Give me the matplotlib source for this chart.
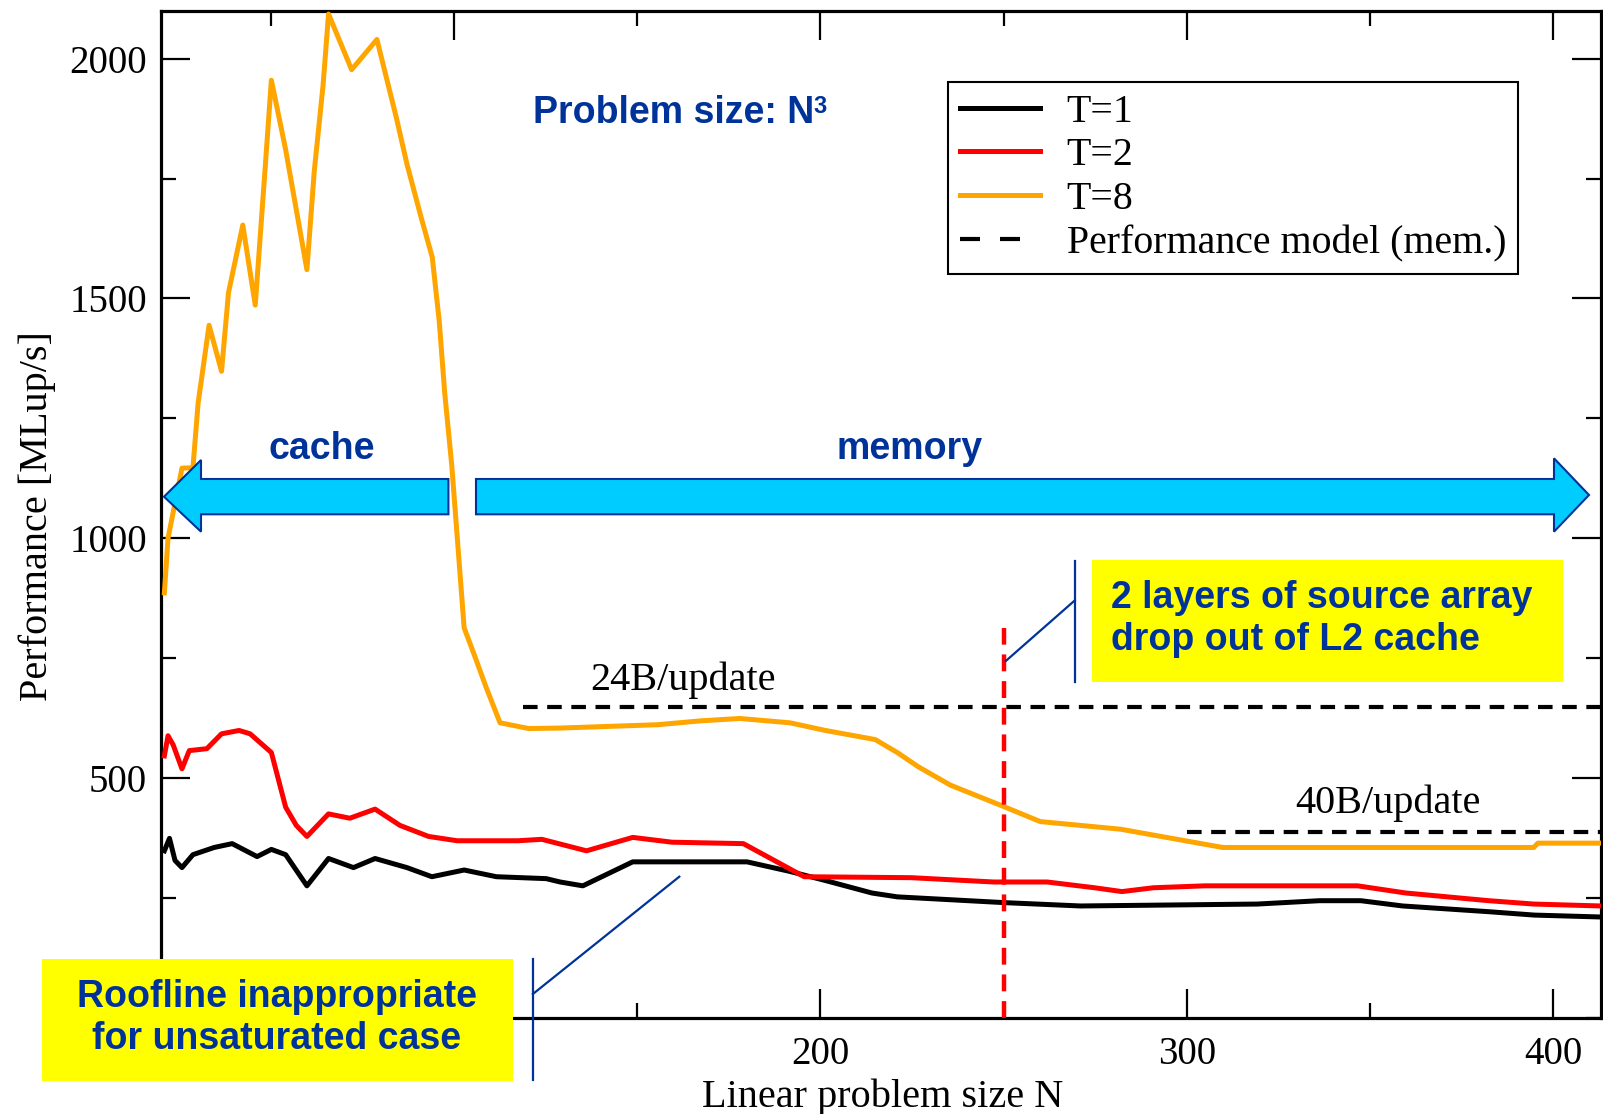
import matplotlib
matplotlib.use("Agg")
import matplotlib.pyplot as plt
from matplotlib.patches import Polygon, Rectangle
from matplotlib.lines import Line2D
from matplotlib.ticker import MultipleLocator

# ---------------------------------------------------------------- data
n_t1 = [21, 22.4, 23.9, 25.8, 28.8, 34.6, 39.5, 46.3, 50.2, 54.1, 59.9, 65.8,
        72.6, 78.5, 87.2, 94, 102.8, 111.6, 125.2, 129, 135.2, 148.8, 180,
        191.7, 201.4, 214.1, 221, 250.1, 271, 319.2, 336.2, 347.5, 358.9,
        382.5, 394.8, 413]
perf_t1 = [348, 374, 328, 313, 340, 355, 363, 336, 351, 340, 275, 332,
           313, 332, 313, 294, 308, 294, 290, 283, 275, 325, 325,
           305, 286, 260, 252, 240, 233, 237, 244, 244, 233,
           221, 214, 210]

n_t2 = [21, 22, 23.4, 25.8, 27.8, 32.6, 36.6, 41.4, 44.4, 50.2, 54.1, 57,
        59.9, 65.8, 71.6, 78.5, 85.3, 93.1, 100.9, 117.5, 124, 136.2, 148.8,
        159.5, 179, 195.6, 224.8, 247.3, 261.9, 274.8, 282.3, 290.9, 305,
        346.6, 359.8, 382.4, 394.7, 413]
perf_t2 = [546, 588, 569, 519, 557, 561, 592, 599, 592, 553, 439, 401,
           378, 425, 416, 435, 401, 378, 369, 369, 372, 348, 376,
           366, 363, 294, 292, 283, 283, 271, 263, 271, 275,
           275, 260, 244, 237, 233]

n_t8 = [21, 22, 25.8, 28.8, 30.2, 33.2, 36.6, 38.5, 42.4, 45.8, 48.3, 50.2,
        54.1, 59.9, 61.9, 64.3, 65.8, 72.1, 79.0, 84.3, 87.2, 91.1, 94.1,
        96.0, 97.5, 99.4, 101.4, 102.8, 105.8, 108.7, 112.6, 120.4, 129,
        155.6, 167.3, 178, 191.7, 201.4, 215, 221, 226.8, 235.5, 249.2,
        260, 282, 309.8, 394.7, 395.8, 413]
perf_t8 = [886, 1000, 1146, 1147, 1281, 1444, 1348, 1512, 1653, 1486, 1750, 1955,
           1810, 1560, 1765, 1944, 2093, 1977, 2040, 1877, 1780, 1668, 1586,
           1453, 1303, 1154, 954, 813, 752, 691, 615, 603, 604,
           611, 619, 624, 615, 599, 580, 553, 523, 485, 443,
           409, 393, 355, 355, 364, 364]

# memory-bound performance model levels
model_24b_n = [119, 413]
model_24b = 647
model_40b_n = [300, 413]
model_40b = 387

# problem size where two layers of the source array leave L2
l2_drop_n = 250
l2_drop_top = 813

series_labels = ["T=1", "T=2", "T=8", "Performance model (mem.)"]
series_colors = ["black", "#ff0000", "#ffa500"]

x_ticks = [100, 200, 300, 400]
x_tick_labels = ["", "200", "300", "400"]
y_ticks = [500, 1000, 1500, 2000]

# ---------------------------------------------------------------- figure
W, H, DPI = 1603, 1114, 100
plt.rcParams["font.family"] = ["Liberation Serif", "DejaVu Serif"]
SANS = ["Liberation Sans", "DejaVu Sans"]
BLUE = "#003399"

fig = plt.figure(figsize=(W / DPI, H / DPI), dpi=DPI)


def fx(px):
    return px / W


def fy(py):
    return 1 - py / H


ax = fig.add_axes([fx(160.7), fy(1017.7), (1600.9 - 160.7) / W, (1017.7 - 10.7) / H])
ax.set_xlim(20, 413)
ax.set_ylim(0, 2100)

lw = 3.6
ax.plot(n_t1, perf_t1, color=series_colors[0], lw=lw, zorder=3)
ax.plot(n_t2, perf_t2, color=series_colors[1], lw=lw, zorder=3)
ax.plot(n_t8, perf_t8, color=series_colors[2], lw=lw, zorder=3)

dash = (3.5, 2.3)
ax.plot(model_24b_n, [model_24b, model_24b], color="black", lw=3, dashes=dash, zorder=2)
ax.plot(model_40b_n, [model_40b, model_40b], color="black", lw=3, dashes=dash, zorder=2)
ax.plot([l2_drop_n, l2_drop_n], [0, l2_drop_top], color="#ff0000", lw=3.2,
        dashes=(3.8, 2.2), zorder=4)

# axes styling
ax.set_xticks(x_ticks)
ax.set_xticklabels(x_tick_labels)
ax.set_yticks(y_ticks)
ax.xaxis.set_minor_locator(MultipleLocator(50))
ax.yaxis.set_minor_locator(MultipleLocator(250))
ax.tick_params(which="both", direction="in", top=True, right=True, width=1.6)
ax.tick_params(which="major", length=21, labelsize=28)
ax.tick_params(which="minor", length=11)
ax.tick_params(axis="x", pad=13)
ax.tick_params(axis="y", pad=10)
for sp in ax.spines.values():
    sp.set_linewidth(2.3)

ax.set_xlabel("Linear problem size N", fontsize=29)
ax.xaxis.set_label_coords((883 - 160.7) / 1440.2, (1017.7 - 1078) / 1007)
ax.set_ylabel("Performance [MLup/s]", fontsize=29)
ax.yaxis.set_label_coords((56 - 160.7) / 1440.2, (1017.7 - 516) / 1007)

# legend
handles = [Line2D([], [], color=c, lw=lw) for c in series_colors]
handles.append(Line2D([], [], color="black", lw=3, dashes=(4.8, 4.8)))
leg = ax.legend(handles, series_labels, loc="upper left",
                bbox_to_anchor=(fx(948), fy(81.7)), bbox_transform=fig.transFigure,
                fontsize=28.7, frameon=True, fancybox=False, edgecolor="black",
                framealpha=1, borderpad=0.3, borderaxespad=0,
                handlelength=2.02, handletextpad=0.66, labelspacing=0.17)
leg.get_frame().set_linewidth(1.5)
leg.set_zorder(5)

# model labels
fig.text(fx(590), fy(690), "24B/update", fontsize=29, ha="left", va="baseline")
fig.text(fx(1295), fy(812.7), "40B/update", fontsize=29, ha="left", va="baseline")

# region labels and arrows
fig.text(fx(533), fy(123.3), "Problem size: N", family=SANS, fontweight="bold",
         fontsize=27, color=BLUE, ha="left", va="baseline")
fig.text(fx(813), fy(113), "3", family=SANS, fontweight="bold",
         fontsize=17, color=BLUE, ha="left", va="baseline")
fig.text(fx(322), fy(459), "cache", family=SANS, fontweight="bold",
         fontsize=27, color=BLUE, ha="center", va="baseline")
fig.text(fx(910), fy(459), "memory", family=SANS, fontweight="bold",
         fontsize=27, color=BLUE, ha="center", va="baseline")


def fig_poly(points, **kw):
    pts = [(fx(x), fy(y)) for x, y in points]
    fig.add_artist(Polygon(pts, closed=True, transform=fig.transFigure, **kw))


arrow_style = dict(facecolor="#00ccff", edgecolor=BLUE, linewidth=1.5, zorder=6)
fig_poly([(164, 496.7), (201, 460), (201, 479), (448.4, 479), (448.4, 514.3),
          (201, 514.3), (201, 531.7)], **arrow_style)
fig_poly([(476, 479), (1554, 479), (1554, 458.3), (1589, 495), (1554, 531.7),
          (1554, 514.3), (476, 514.3)], **arrow_style)


# callout boxes
def fig_rect(x0, y0, x1, y1):
    fig.add_artist(Rectangle((fx(x0), fy(y1)), fx(x1) - fx(x0), fy(y0) - fy(y1),
                             transform=fig.transFigure, facecolor="#ffff00",
                             edgecolor="none", zorder=7))


def fig_line(xs, ys):
    fig.add_artist(Line2D([fx(x) for x in xs], [fy(y) for y in ys],
                          transform=fig.transFigure, color=BLUE, lw=1.6, zorder=7))


fig_rect(1091.9, 560, 1562.8, 681.7)
fig_line([1074.8, 1074.8], [560.5, 681.5])
fig_line([1006, 1074.8], [660.8, 600.4])
fig.text(fx(1111), fy(607.7), "2 layers of source array", family=SANS,
         fontweight="bold", fontsize=27, color=BLUE, ha="left", va="baseline", zorder=8)
fig.text(fx(1111), fy(649.8), "drop out of L2 cache", family=SANS,
         fontweight="bold", fontsize=27, color=BLUE, ha="left", va="baseline", zorder=8)

fig_rect(42, 959, 512.5, 1080.6)
fig_line([532.9, 532.9], [959, 1080])
fig_line([532.9, 679.3], [994, 876.7])
fig.text(fx(277), fy(1006.7), "Roofline inappropriate", family=SANS,
         fontweight="bold", fontsize=27, color=BLUE, ha="center", va="baseline", zorder=8)
fig.text(fx(277), fy(1048.8), "for unsaturated case", family=SANS,
         fontweight="bold", fontsize=27, color=BLUE, ha="center", va="baseline", zorder=8)

fig.savefig("out.png", dpi=DPI)
